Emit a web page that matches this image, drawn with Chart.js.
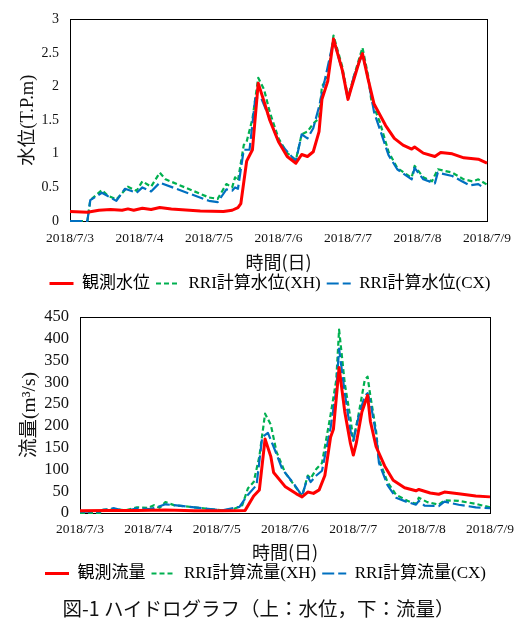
<!DOCTYPE html><html lang="ja"><meta charset="utf-8">
<title>ハイドログラフ</title>
<script src="https://cdn.jsdelivr.net/npm/chart.js@4.4.1"></script>

<style>
*{box-sizing:border-box}
body{margin:0;background:#fff;width:528px;height:619px;position:relative;overflow:hidden}
canvas{position:absolute;left:0}
#cap{position:absolute;left:0;top:595px;width:517px;text-align:center;white-space:nowrap;
     font:19.5px/26px "Noto Sans CJK JP",sans-serif;color:#111}
</style>

<body>
<canvas id="lv" width="528" height="302" style="top:0"></canvas>
<canvas id="fl" width="528" height="296" style="top:296px"></canvas>
<div id="cap">図-1 ハイドログラフ（上：水位，下：流量）</div>

<script>
// x は 2018/7/3 0:00 からの経過時間 [h]
const dayLabels = ['2018/7/3','2018/7/4','2018/7/5','2018/7/6','2018/7/7','2018/7/8','2018/7/9'];

/* 水位 (T.P.m) */
const lvObsHr = [0,6,10,14,18,20,22,25,28,31,35,45,53,56,58,59,61,63,65,67,69,72,75,78,80,82,84,86,87,89,91,94,96,97,100,101,103,105,109,112,115,118,119,122,126,128,132,136,141,144];
const lvObs   = [0.14,0.13,0.16,0.17,0.16,0.18,0.16,0.19,0.17,0.20,0.18,0.15,0.14,0.16,0.20,0.26,0.89,1.06,2.05,1.78,1.50,1.18,0.96,0.86,0.99,0.96,1.03,1.33,1.81,2.08,2.71,2.25,1.81,1.96,2.39,2.49,2.10,1.74,1.42,1.23,1.13,1.07,1.10,1.01,0.96,1.02,1.00,0.94,0.92,0.86];
const lvXHHr  = [0,6,7,11,13,16,20,23,25,28,31,33,48,51,54,56,57,58,60,61,63,65,67,69,72,75,78,80,82,84,86,87,89,91,94,96,98,101,103,104,107,110,113,117,118,119,122,125,127,132,136,139,141,144];
const lvXH    = [0,0,0.31,0.46,0.38,0.32,0.51,0.45,0.59,0.51,0.72,0.62,0.35,0.33,0.55,0.50,0.65,0.60,1.13,1.18,1.52,2.13,1.96,1.62,1.23,1.01,0.91,1.29,1.33,1.45,1.53,2.00,2.15,2.76,2.30,1.84,2.15,2.58,2.15,1.81,1.47,1.03,0.79,0.67,0.65,0.82,0.65,0.59,0.77,0.72,0.62,0.59,0.62,0.54];
const lvCXHr  = [0,6,7,11,16,19,23,25,28,31,48,51,54,56,57,58,60,62,64,66,69,72,78,80,82,84,86,88,91,94,96,98,101,103,105,110,113,118,119,122,126,127,132,135,138,141,142];
const lvCX    = [0,0,0.31,0.42,0.30,0.48,0.42,0.50,0.44,0.57,0.30,0.28,0.47,0.45,0.50,0.48,1.06,1.06,1.83,1.83,1.52,1.18,0.89,1.29,1.23,1.38,1.70,2.10,2.69,2.25,1.80,2.15,2.49,2.10,1.62,0.98,0.77,0.62,0.79,0.62,0.56,0.72,0.67,0.60,0.53,0.55,0.52];

/* 流量 (m3/s) */
const flObsHr = [0,10,20,30,40,50,58,61,63,65,67,68,72,76,78,80,82,84,86,88,89,91,93,95,96,97,99,101,102,104,107,110,114,118,119,123,126,128,133,139,144];
const flObs   = [5,6,6,7,5,5,6,39,53,170,130,93,61,44,37,48,45,53,86,174,192,334,232,159,133,159,232,270,210,152,108,75,58,51,54,46,43,48,44,39,37];
const flXHHr  = [0,7,8,12,16,20,24,26,28,30,33,50,54,57,59,61,63,65,67,69,72,76,78,80,81,83,85,88,90,91,93,95,96,98,100,101,102,104,105,108,111,115,118,119,122,126,128,133,139,144];
const flXH    = [0,0,7,9,6,13,12,18,12,25,18,6,9,18,57,71,130,228,203,141,93,57,39,86,79,101,115,225,305,421,297,217,166,232,305,313,268,188,122,71,42,28,21,35,25,19,29,28,21,13];
const flCXHr  = [0,7,8,12,16,20,24,26,30,33,50,56,59,62,64,66,68,71,75,78,80,81,83,85,88,90,91,93,95,96,98,100,101,102,104,105,108,111,115,118,119,121,126,128,133,139,144];
const flCX    = [3,3,7,11,4,11,9,11,20,18,6,14,42,64,174,184,152,101,68,39,83,71,86,97,195,283,377,275,188,166,225,268,275,254,181,115,64,35,25,19,28,17,16,26,19,13,11];

const SERIF  = "'Liberation Serif','Noto Sans CJK JP',serif";
const GOTHIC = "'Noto Sans CJK JP',sans-serif";
Chart.defaults.font.family = SERIF;
Chart.defaults.color = '#111';

const pts = (h, v) => h.map((x, i) => ({x, y: v[i]}));

// プロットエリアの枠
const frame = {
  id: 'frame',
  beforeDatasetsDraw(c){
    const {ctx, chartArea: a} = c;
    ctx.save();
    ctx.strokeStyle = '#000'; ctx.lineWidth = 1;
    ctx.strokeRect(Math.round(a.left) + .5, Math.round(a.top) + .5, Math.round(a.width), Math.round(a.height));
    ctx.restore();
  }
};

// 凡例は系列の線種をそのまま使う
const legendItems = c => c.data.datasets.map((d, i) => ({
  text: d.label, datasetIndex: i, hidden: false, pointStyle: 'line',
  strokeStyle: d.borderColor, fillStyle: d.borderColor,
  lineWidth: d.borderWidth, lineDash: d.borderDash || [], fontColor: '#000'
}));

function makeChart(id, o){
  const noGrid = {display:false, drawTicks:false};
  return new Chart(document.getElementById(id), {
    type: 'line',
    data: {datasets: [
      {label:o.names[0], data:o.obs, borderColor:'#ff0000', borderWidth:3,   order:0},
      {label:o.names[1], data:o.xh,  borderColor:'#00b050', borderWidth:2.2, borderDash:[5,3],  order:2},
      {label:o.names[2], data:o.cx,  borderColor:'#0070c0', borderWidth:2.2, borderDash:[12,4], order:1}
    ]},
    options: {
      animation:false, responsive:false, devicePixelRatio:1,
      layout: {padding:{left:o.pl, top:o.pt, right:0, bottom:0}},
      elements: {point:{radius:0}, line:{tension:0, fill:false, borderJoinStyle:'round'}},
      datasets: {line:{clip:3}},
      scales: {
        x: {type:'linear', min:0, max:144, grid:noGrid, border:{display:false},
            ticks:{stepSize:24, autoSkip:false, maxRotation:0, padding:o.xpad, font:{size:13.5},
                   callback:v => dayLabels[v / 24]},
            title:{display:true, text:'時間(日)', font:{family:GOTHIC, size:18}, padding:{top:0, bottom:-3.5}},
            afterFit(s){ s.height = o.xh_; }},
        y: {min:0, max:o.ymax, grid:noGrid, border:{display:false},
            ticks:{stepSize:o.step, autoSkip:false, padding:11, font:{size:o.tick},
                   callback:v => String(+v.toFixed(2))},
            title:{display:true, text:o.ytitle, font:{size:o.tsize}, padding:{top:o.tpad, bottom:0}},
            afterFit(s){ s.width = o.yw; }},
        yR: {position:'right', grid:noGrid, border:{display:false}, ticks:{display:false},
             afterFit(s){ s.width = o.rw; }}
      },
      plugins: {
        legend: {position:'bottom',
          labels:{usePointStyle:true, pointStyleWidth:24, padding:6,
                  font:{size:17}, color:'#000', generateLabels:legendItems}},
        tooltip: {enabled:false}
      }
    },
    plugins: [frame]
  });
}

makeChart('lv', {
  names: ['観測水位', 'RRI計算水位(XH)', 'RRI計算水位(CX)'],
  obs: pts(lvObsHr, lvObs), xh: pts(lvXHHr, lvXH), cx: pts(lvCXHr, lvCX),
  ymax: 3, step: 0.5, tick: 14, ytitle: '水位(T.P.m)', tsize: 18.5, tpad: 4.9,
  pl: 12, pt: 15, yw: 58, rw: 41, xh_: 48, xpad: 9
});

makeChart('fl', {
  names: ['観測流量', 'RRI計算流量(XH)', 'RRI計算流量(CX)'],
  obs: pts(flObsHr, flObs), xh: pts(flXHHr, flXH), cx: pts(flCXHr, flCX),
  ymax: 450, step: 50, tick: 16.5, ytitle: '流量(m³/s)', tsize: 19.5, tpad: 14.8,
  pl: 3, pt: 11, yw: 77, rw: 38, xh_: 46, xpad: 8.5
});
</script>
</body></html>
